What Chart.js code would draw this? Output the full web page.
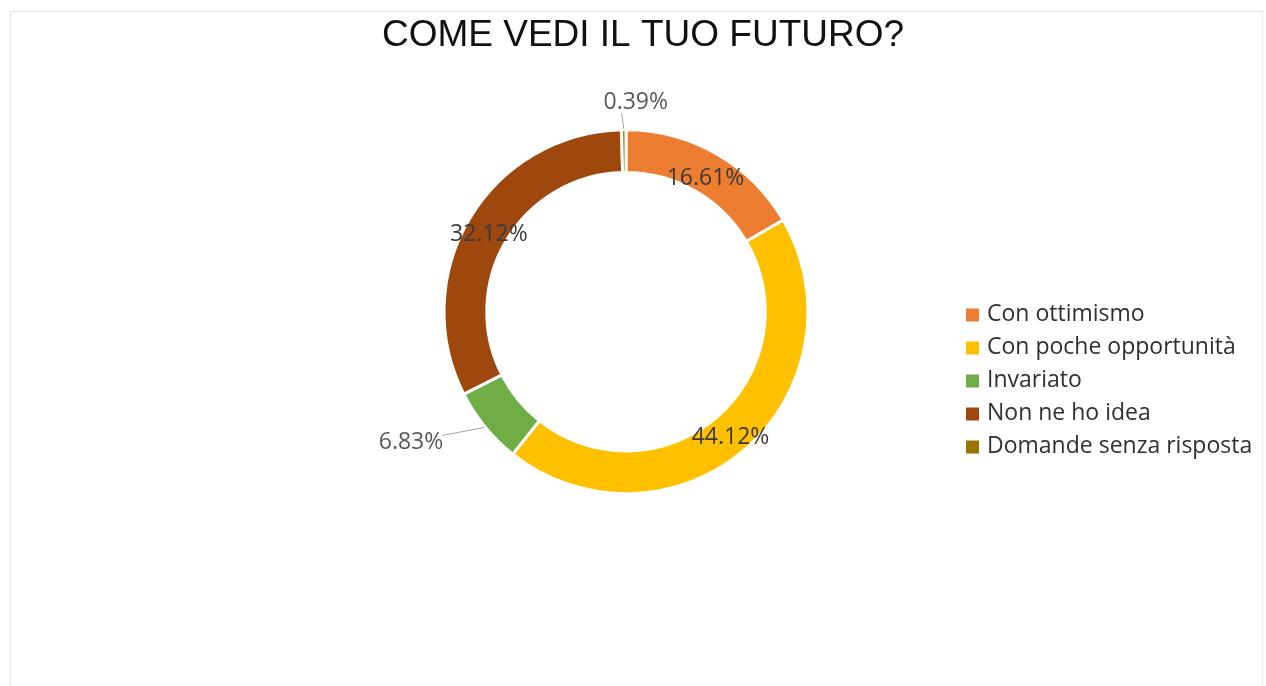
<!DOCTYPE html>
<html>
<head>
<meta charset="utf-8">
<script src="https://cdn.jsdelivr.net/npm/chart.js@4.4.1/dist/chart.umd.min.js"></script>
<style>
  html, body { margin: 0; padding: 0; background: #fff; }
  #cornice {
    position: absolute; left: 10px; top: 11px; width: 1251px; height: 700px;
    border-left: 1px solid #e3e3e3; border-top: 1px solid #e3e3e3; border-right: 1px solid #ececec;
  }
  #wrap { position: absolute; left: 0; top: 0; width: 1266px; height: 686px; }
</style>
</head>
<body>
<div id="cornice"></div>
<div id="wrap"><canvas id="futuro"></canvas></div>
<script>
// Dati del grafico
const categorie = ["Con ottimismo", "Con poche opportunità", "Invariato", "Non ne ho idea", "Domande senza risposta"];
const percentuali = [16.61, 44.12, 6.83, 32.12, 0.39];
const colori = ["#ED7D31", "#FFC000", "#70AD47", "#9E480E", "#997300"];

// Etichette fuori dall'anello (con linea guida)
const etichetteFuori = {
  2: { dx: -42, dy: 8, align: "right" },
  4: { dx: -2, dy: -15, align: "center" },
};

const pluginEtichette = {
  id: "etichette",
  afterLayout(chart) {
    // sposta il titolo un po' a destra rispetto al centro dell'anello
    chart.titleBlock.left += 17;
    chart.titleBlock.right += 17;
  },
  afterDatasetsDraw(chart) {
    const ctx = chart.ctx;
    const meta = chart.getDatasetMeta(0);
    ctx.save();
    ctx.font = "23px 'Open Sans'";
    meta.data.forEach((arc, i) => {
      const p = arc.getProps(["x", "y", "startAngle", "endAngle", "innerRadius", "outerRadius"], true);
      const a = (p.startAngle + p.endAngle) / 2;
      const testo = percentuali[i].toFixed(2) + "%";
      const f = etichetteFuori[i];
      if (!f) {
        const r = (p.innerRadius + p.outerRadius) / 2 - 1;
        ctx.fillStyle = "#3a3a3a";
        ctx.textAlign = "center";
        ctx.textBaseline = "middle";
        ctx.fillText(testo, p.x + Math.cos(a) * r, p.y + Math.sin(a) * r + 5);
      } else {
        const x0 = p.x + Math.cos(a) * (p.outerRadius + 1);
        const y0 = p.y + Math.sin(a) * (p.outerRadius + 1);
        const x1 = x0 + f.dx;
        const y1 = y0 + f.dy;
        ctx.strokeStyle = "#a6a6a6";
        ctx.lineWidth = 1;
        ctx.beginPath();
        ctx.moveTo(x0, y0);
        ctx.lineTo(x1, y1);
        ctx.stroke();
        ctx.fillStyle = "#595959";
        ctx.textBaseline = "middle";
        if (f.align === "right") {
          ctx.textAlign = "right";
          ctx.fillText(testo, x1 + 1, y1 + 7);
        } else {
          ctx.textAlign = "center";
          ctx.fillText(testo, x1 + 14, y1 - 11);
        }
      }
    });
    ctx.restore();
  },
  afterDraw(chart) {
    // legenda a destra
    const ctx = chart.ctx;
    ctx.save();
    ctx.font = "23px 'Open Sans'";
    ctx.textAlign = "left";
    ctx.textBaseline = "middle";
    chart.data.labels.forEach((lab, i) => {
      const y = 315 + i * 33;
      ctx.fillStyle = chart.data.datasets[0].backgroundColor[i];
      ctx.fillRect(966, y - 6.5, 13, 13);
      ctx.fillStyle = "#303030";
      ctx.fillText(lab, 987, y - 1);
    });
    ctx.restore();
  },
};

new Chart(document.getElementById("futuro"), {
  type: "doughnut",
  data: {
    labels: categorie,
    datasets: [
      {
        data: percentuali,
        backgroundColor: colori,
        borderColor: "#ffffff",
        borderWidth: 3,
        radius: 182,
        cutout: "76.5%",
      },
    ],
  },
  options: {
    responsive: true,
    maintainAspectRatio: false,
    animation: false,
    layout: { padding: { left: 0, right: 14, top: 0, bottom: 121 } },
    plugins: {
      legend: { display: false },
      tooltip: { enabled: false },
      title: {
        display: true,
        text: "COME VEDI IL TUO FUTURO?",
        color: "#111",
        font: { family: "'Liberation Sans', Arial", size: 37, weight: "normal", lineHeight: 1.2 },
        padding: { top: 14, bottom: 0 },
      },
    },
  },
  plugins: [pluginEtichette],
});
</script>
</body>
</html>
